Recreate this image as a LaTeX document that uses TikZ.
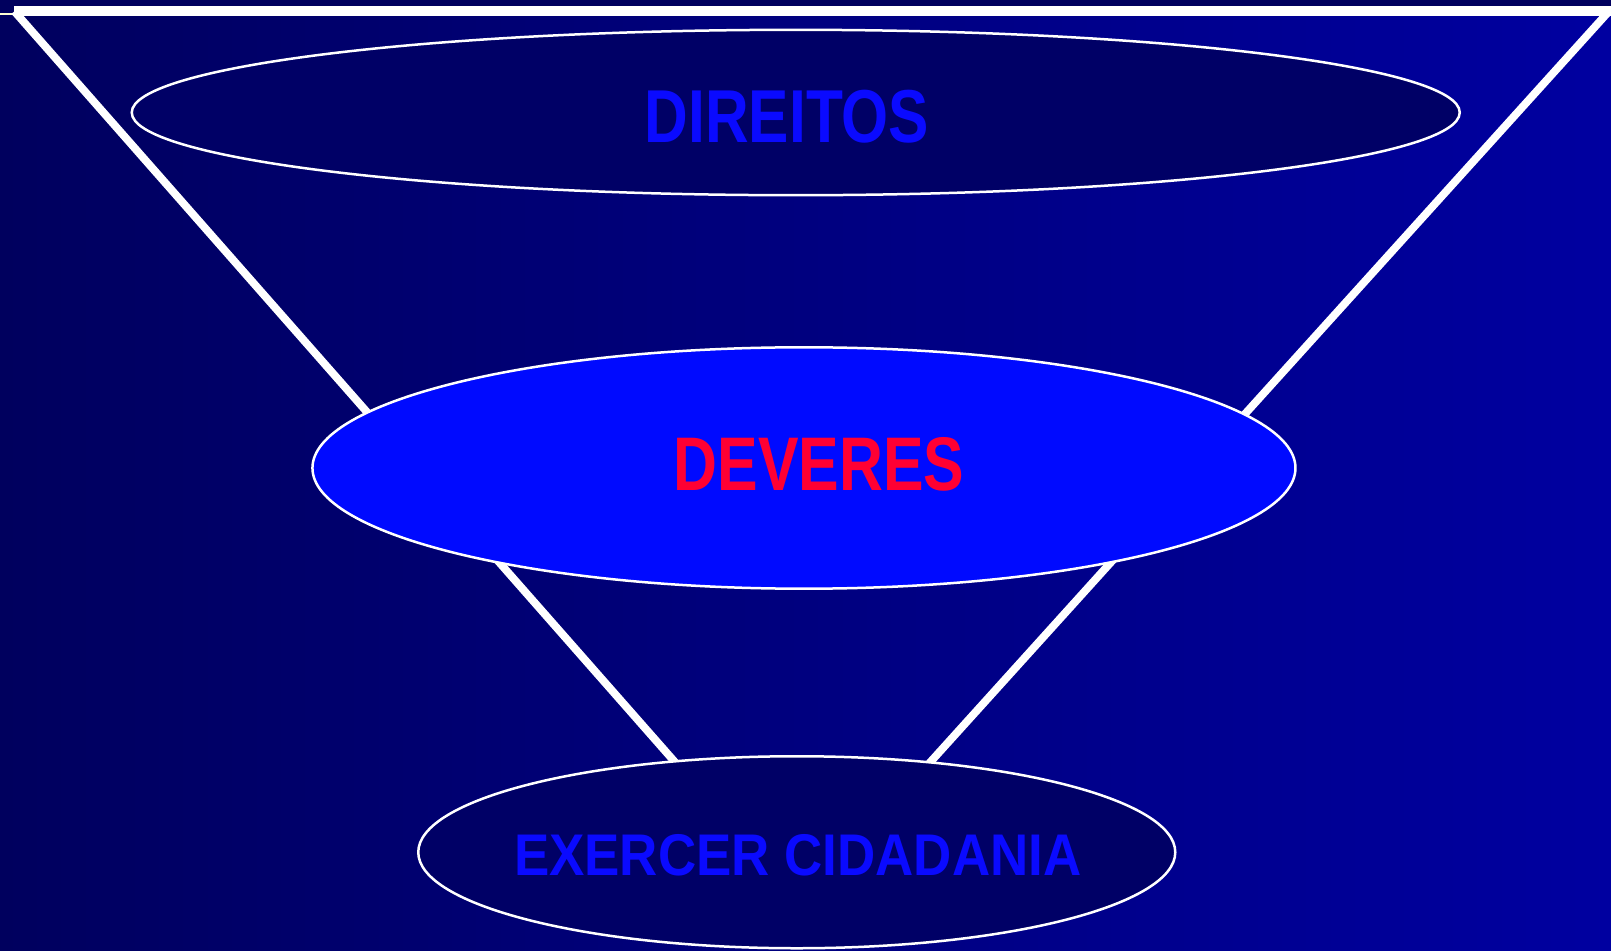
\documentclass[tikz,border=0pt]{standalone}
\usepackage{fontspec}
\setmainfont{Liberation Sans}
\usetikzlibrary{shapes.geometric}
\definecolor{navyL}{RGB}{0,0,94}
\definecolor{navyR}{RGB}{0,0,160}
\definecolor{ovaldark}{RGB}{0,0,102}
\definecolor{ovalblue}{RGB}{0,10,255}
\definecolor{txtblue}{RGB}{10,10,255}
\definecolor{txtred}{RGB}{255,0,51}
\definecolor{paleyellow}{RGB}{255,255,210}
\tikzset{
  funnel/.style={draw=white, line width=7.8pt},
  oval/.style={ellipse, draw=white, line width=2.5pt, inner sep=0pt},
  label72/.style={inner sep=0pt}
}
\begin{document}
\begin{tikzpicture}[x=1.0274pt,y=-1.0274pt]
  \useasboundingbox (0,0) rectangle (1568,925);
  \shade[left color=navyL, right color=navyR] (0,0) rectangle (1568,925);
  \fill[navyL] (0,0) rectangle (1568,6);
  % funnel corners
  \coordinate (tl) at (14,11);
  \coordinate (tr) at (1566,11);
  \coordinate (te) at (1568,10.4);
  \coordinate (tb) at (14,10.4);
  \coordinate (bl) at (673,760);
  \coordinate (br) at (889,760);
  \coordinate (s0) at (0,13.4);
  \coordinate (s1) at (12.6,13.4);
  \draw[paleyellow, line width=2.5pt] (s0) -- (s1);
  \draw[draw=white, line width=10pt] (tb) -- (te);
  \draw[funnel] (tl) -- (bl);
  \draw[funnel] (tr) -- (br);
  % ovals
  \node[oval, fill=ovaldark, minimum width=1328pt, minimum height=165.4pt] (dir) at (774.5,109.5) {};
  \node[oval, fill=ovalblue, minimum width=983pt, minimum height=241.4pt] (dev) at (782.5,455.5) {};
  \node[oval, fill=ovaldark, minimum width=757pt, minimum height=192pt] (exe) at (775.5,829.5) {};
  % texts
  \node[label72, text=txtblue, font=\bfseries\fontsize{75}{75}\selectfont] (tdir) at (766,114) {\scalebox{0.806}[1]{DIREITOS}};
  \node[label72, text=txtred, font=\bfseries\fontsize{76}{76}\selectfont] (tdev) at (797,451.5) {\scalebox{0.80}[1]{DEVERES}};
  \node[label72, text=txtblue, font=\bfseries\fontsize{58.8}{58.8}\selectfont] (texe) at (776.5,832.5) {\scalebox{0.90}[1]{EXERCER CIDADANIA}};
\end{tikzpicture}
\end{document}
